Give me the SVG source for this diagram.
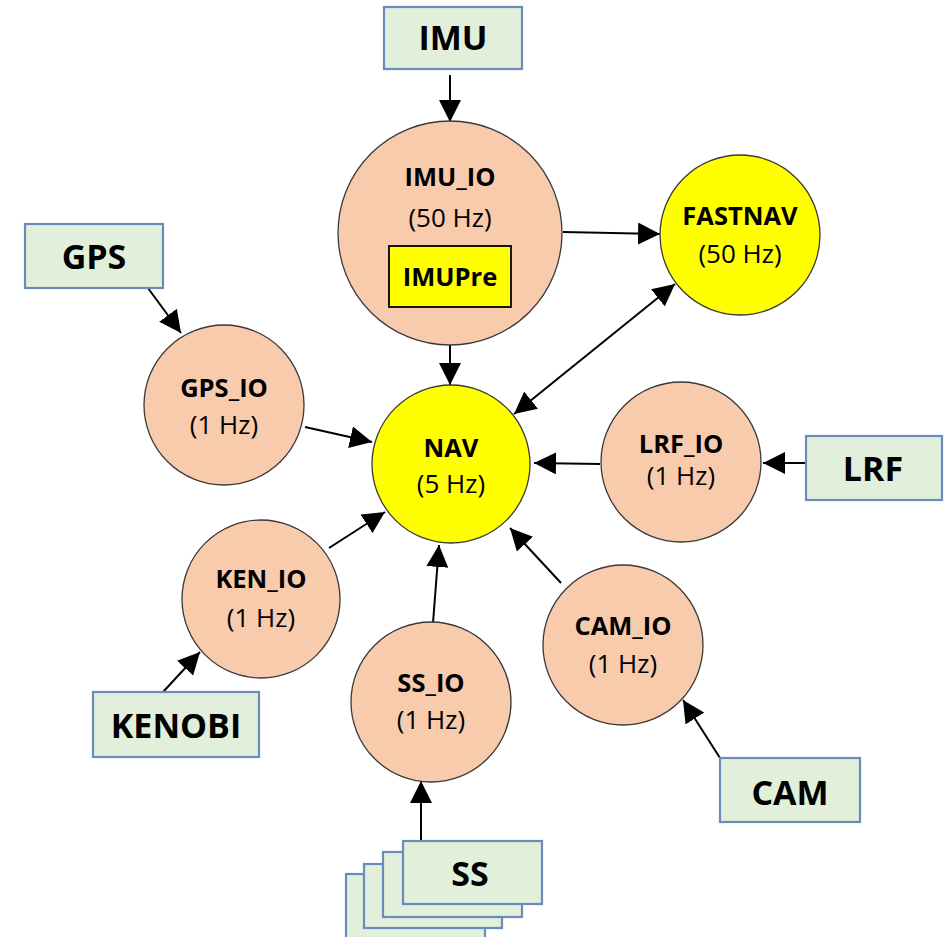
<svg xmlns="http://www.w3.org/2000/svg" width="944" height="937" viewBox="0 0 944 937">
  <style>
    .box { fill: #E2EFDA; stroke: #6A8CBC; stroke-width: 2.2; }
    .io { fill: #F8CBAD; stroke: #3A3A3A; stroke-width: 1.3; }
    .core { fill: #FFFF00; stroke: #3A3A3A; stroke-width: 1.3; }
    .boxlabel { font-family: "Open Sans", "Liberation Sans", sans-serif; font-weight: bold; font-size: 34px; fill: #000; text-anchor: middle; }
    .name { font-family: "Open Sans", "Liberation Sans", sans-serif; font-weight: bold; font-size: 25.5px; fill: #000; text-anchor: middle; }
    .rate { font-family: "Open Sans", "Liberation Sans", sans-serif; font-size: 26px; fill: #000; text-anchor: middle; }
    .edge { stroke: #000; stroke-width: 2; fill: none; marker-end: url(#arrow); }
  </style>
  <defs>
    <marker id="arrow" markerUnits="userSpaceOnUse" markerWidth="23" markerHeight="22" refX="22" refY="11" orient="auto-start-reverse">
      <path d="M0,0 L22,11 L0,22 Z" fill="#000"/>
    </marker>
  </defs>

  <rect width="944" height="937" fill="#FFFFFF"/>

  <!-- connectors -->
  <g id="connectors">
    <line class="edge" x1="450" y1="75" x2="450" y2="122"/>
    <line class="edge" x1="450" y1="345" x2="450" y2="385"/>
    <line class="edge" x1="563" y1="232" x2="660" y2="234"/>
    <line class="edge" x1="514" y1="414" x2="675" y2="284" marker-start="url(#arrow)"/>
    <line class="edge" x1="145" y1="284" x2="181" y2="333"/>
    <line class="edge" x1="305" y1="427" x2="372" y2="442"/>
    <line class="edge" x1="806" y1="463" x2="763" y2="463"/>
    <line class="edge" x1="600" y1="464" x2="534" y2="463"/>
    <line class="edge" x1="163" y1="692" x2="200" y2="652"/>
    <line class="edge" x1="329" y1="548" x2="385" y2="512"/>
    <line class="edge" x1="421" y1="841" x2="421" y2="781"/>
    <line class="edge" x1="433" y1="623" x2="439" y2="545"/>
    <line class="edge" x1="720" y1="758" x2="683" y2="700"/>
    <line class="edge" x1="561" y1="583" x2="510" y2="528"/>
  </g>

  <!-- sensor sources -->
  <g id="IMU">
    <rect class="box" x="384" y="7" width="138" height="62"/>
    <text class="boxlabel" x="453" y="50">IMU</text>
  </g>
  <g id="GPS">
    <rect class="box" x="25" y="224" width="138" height="64"/>
    <text class="boxlabel" x="94" y="269">GPS</text>
  </g>
  <g id="LRF">
    <rect class="box" x="806" y="436" width="136" height="64"/>
    <text class="boxlabel" x="873" y="481">LRF</text>
  </g>
  <g id="KENOBI">
    <rect class="box" x="93" y="692" width="166" height="65"/>
    <text class="boxlabel" x="176" y="738">KENOBI</text>
  </g>
  <g id="CAM">
    <rect class="box" x="720" y="758" width="140" height="64"/>
    <text class="boxlabel" x="790" y="805">CAM</text>
  </g>
  <g id="SS">
    <rect class="box" x="346" y="874" width="139" height="70"/>
    <rect class="box" x="364" y="864" width="138" height="64"/>
    <rect class="box" x="383" y="852" width="139" height="65"/>
    <rect class="box" x="403" y="841" width="139" height="63"/>
    <text class="boxlabel" x="470" y="886">SS</text>
  </g>

  <!-- processes -->
  <g id="IMU_IO">
    <circle class="io" cx="450" cy="233" r="112"/>
    <text class="name" x="450" y="186">IMU_IO</text>
    <text class="rate" x="450" y="227">(50 Hz)</text>
    <g id="IMUPre">
      <rect x="389" y="246" width="122" height="61" fill="#FFFF00" stroke="#000" stroke-width="1.8"/>
      <text class="name" x="450" y="286">IMUPre</text>
    </g>
  </g>
  <g id="FASTNAV">
    <circle class="core" cx="740" cy="235" r="80"/>
    <text class="name" x="740" y="225">FASTNAV</text>
    <text class="rate" x="740" y="263">(50 Hz)</text>
  </g>
  <g id="NAV">
    <circle class="core" cx="451" cy="464" r="79"/>
    <text class="name" x="451" y="457">NAV</text>
    <text class="rate" x="451" y="493">(5 Hz)</text>
  </g>
  <g id="GPS_IO">
    <circle class="io" cx="224" cy="405" r="80"/>
    <text class="name" x="224" y="397">GPS_IO</text>
    <text class="rate" x="224" y="434">(1 Hz)</text>
  </g>
  <g id="LRF_IO">
    <circle class="io" cx="681" cy="462" r="80"/>
    <text class="name" x="681" y="453">LRF_IO</text>
    <text class="rate" x="681" y="485">(1 Hz)</text>
  </g>
  <g id="KEN_IO">
    <circle class="io" cx="261" cy="599" r="79"/>
    <text class="name" x="261" y="588">KEN_IO</text>
    <text class="rate" x="261" y="627">(1 Hz)</text>
  </g>
  <g id="SS_IO">
    <circle class="io" cx="431" cy="702" r="80"/>
    <text class="name" x="431" y="692">SS_IO</text>
    <text class="rate" x="431" y="729">(1 Hz)</text>
  </g>
  <g id="CAM_IO">
    <circle class="io" cx="623" cy="645" r="80"/>
    <text class="name" x="623" y="635">CAM_IO</text>
    <text class="rate" x="623" y="673">(1 Hz)</text>
  </g>
</svg>
